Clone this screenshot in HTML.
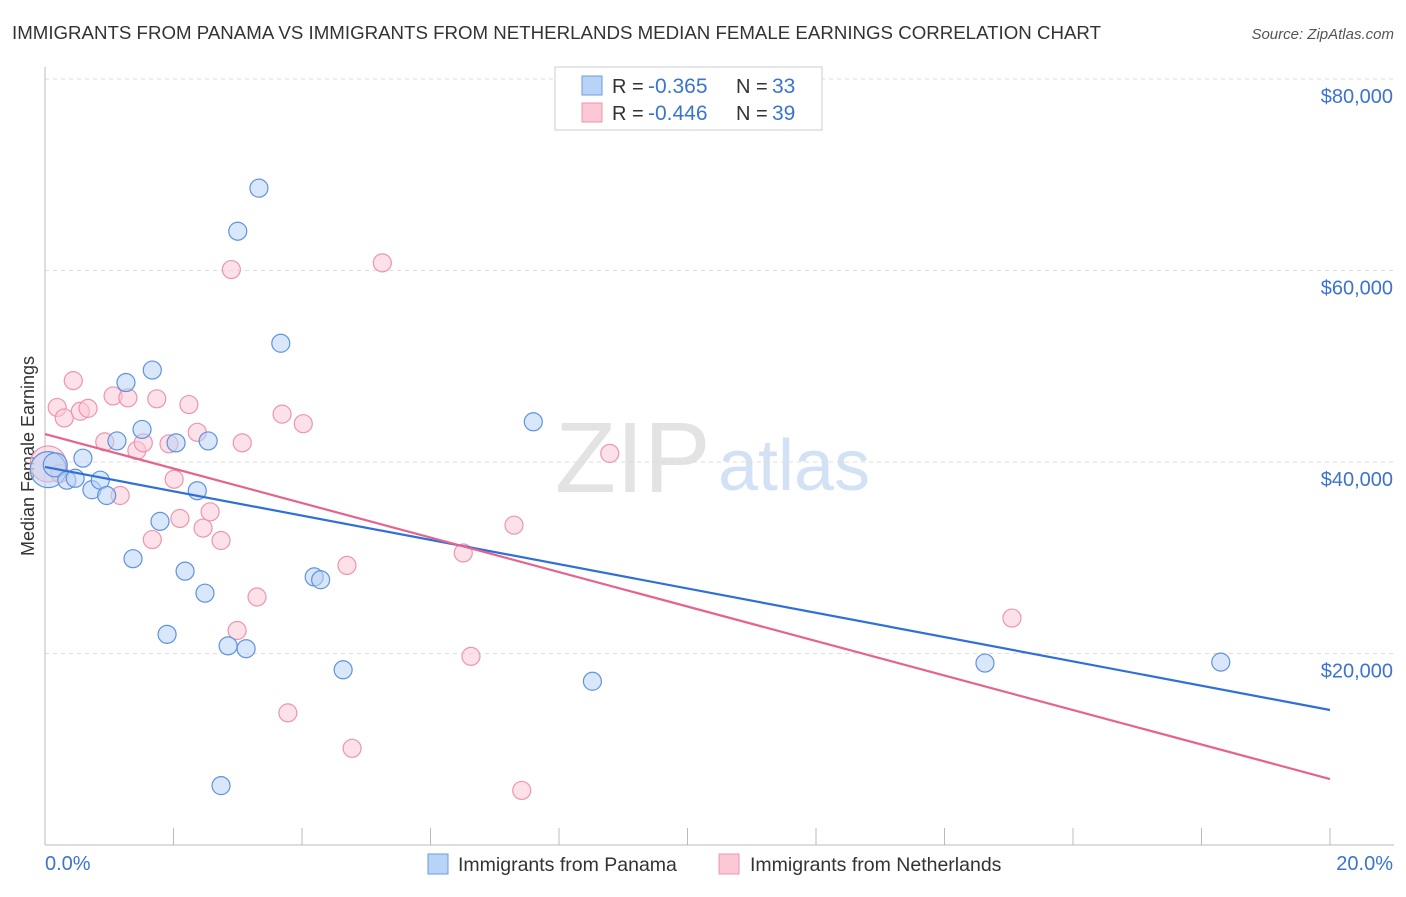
<!DOCTYPE html>
<html><head><meta charset="utf-8"><style>
body{margin:0;background:#fff;font-family:"Liberation Sans",sans-serif;}
svg text{font-family:"Liberation Sans",sans-serif;}
</style></head><body>
<svg id="chart" width="1406" height="892" xmlns="http://www.w3.org/2000/svg">
<text x="12" y="39" font-size="18.5" fill="#333" textLength="1089" lengthAdjust="spacingAndGlyphs">IMMIGRANTS FROM PANAMA VS IMMIGRANTS FROM NETHERLANDS MEDIAN FEMALE EARNINGS CORRELATION CHART</text>
<text x="1394" y="39" font-size="15" fill="#555" text-anchor="end" font-style="italic">Source: ZipAtlas.com</text>
<text x="555" y="492" font-size="100" fill="#ddd" font-family="Liberation Serif" opacity="0.8">ZIP</text>
<text x="718" y="490" font-size="72" fill="#c9daf3" opacity="0.8">atlas</text>
<text transform="translate(34,456) rotate(-90)" font-size="18" fill="#333" text-anchor="middle">Median Female Earnings</text>
<g id="grid"></g><g id="pts"></g><g id="lines"></g>
<g>
<rect x="555" y="67" width="267" height="63" fill="#fff" stroke="#ccc"/>
<rect x="582" y="76" width="20" height="19" fill="#b9d3f6" stroke="#6a9be0"/>
<rect x="582" y="103" width="20" height="19" fill="#fcc8d6" stroke="#ec95ae"/>
<text x="612" y="93" font-size="20" fill="#333">R =</text>
<text x="648" y="93" font-size="21" fill="#3b73d1">-0.365</text>
<text x="736" y="93" font-size="20" fill="#333">N =</text>
<text x="772" y="93" font-size="21" fill="#3b73d1">33</text>
<text x="612" y="120" font-size="20" fill="#333">R =</text>
<text x="648" y="120" font-size="21" fill="#3b73d1">-0.446</text>
<text x="736" y="120" font-size="20" fill="#333">N =</text>
<text x="772" y="120" font-size="21" fill="#3b73d1">39</text>
</g>
<g>
<rect x="428" y="854" width="20" height="20" fill="#b9d3f6" stroke="#6a9be0"/>
<text x="458" y="871" font-size="19.5" fill="#333">Immigrants from Panama</text>
<rect x="719" y="854" width="20" height="20" fill="#fcc8d6" stroke="#ec95ae"/>
<text x="750" y="871" font-size="19.5" fill="#333">Immigrants from Netherlands</text>
</g>
</svg>
<script>
const yTicks=[20000,40000,60000,80000];
const yTickLabels=["$20,000","$40,000","$60,000","$80,000"];
const xEndLabels=["0.0%","20.0%"];
const panamaX=[0.05,0.16,0.34,0.47,0.59,0.73,0.86,0.96,1.12,1.26,1.37,1.51,1.67,1.79,2.04,2.18,2.37,2.49,2.54,1.90,2.85,3.13,2.74,3.00,3.33,3.67,4.19,4.29,4.64,7.60,8.52,14.63,18.30];
const panamaY=[39200,39700,38100,38300,40400,37100,38100,36500,42200,48300,29900,43400,49600,33800,42000,28600,37000,26300,42200,22000,20800,20500,6200,64100,68600,52400,28000,27700,18300,44200,17100,19000,19100];
const panamaR=[18,12,9,9,9,9,9,9,9,9,9,9,9,9,9,9,9,9,9,9,9,9,9,9,9,9,9,9,9,9,9,9,9];
const nethX=[0.05,0.19,0.30,0.44,0.55,0.67,0.93,1.06,1.17,1.29,1.43,1.53,1.67,1.74,1.93,2.01,2.10,2.24,2.37,2.46,2.57,2.74,2.90,3.07,3.30,2.99,3.69,3.78,4.02,4.70,4.78,5.25,6.51,6.63,7.30,7.42,8.79,15.05,0.23];
const nethY=[39800,45700,44600,48500,45300,45600,42100,46900,36500,46700,41200,42000,31900,46600,41900,38200,34100,46000,43100,33100,34800,31800,60100,42000,25900,22400,45000,13800,44000,29200,10100,60800,30500,19700,33400,5700,40900,23700,38800];
const nethR=[18,9,9,9,9,9,9,9,9,9,9,9,9,9,9,9,9,9,9,9,9,9,9,9,9,9,9,9,9,9,9,9,9,9,9,9,9,9,9];
const panamaTrend=[39480,14100];
const nethTrend=[42920,6890];
const NS='http://www.w3.org/2000/svg';
const X0=45,X1=1330,YB=845,YPER=191.5/20000;
const xS=v=>X0+(v/20)*(X1-X0);
const yS=v=>YB-v*YPER;
function mk(tag,attrs,parent){const e=document.createElementNS(NS,tag);for(const k in attrs)e.setAttribute(k,attrs[k]);parent.appendChild(e);return e;}
const grid=document.getElementById('grid');
yTicks.forEach((t,i)=>{
 const l=mk('line',{x1:X0,x2:1394,y1:yS(t),y2:yS(t),stroke:'#ddd','stroke-dasharray':'4,4'},grid);
 
 
 const tx=mk('text',{x:1393,y:yS(t)+24,'font-size':20,fill:'#3b73d1','text-anchor':'end'},grid);
 tx.textContent=yTickLabels[i];
 
 
});
const ax=mk('line',{x1:X0,x2:X0,y1:67,y2:YB,stroke:'#bbb'},grid);


const bx=mk('line',{x1:X0,x2:1394,y1:YB,y2:YB,stroke:'#bbb'},grid);


for(let i=1;i<=10;i++){
 const t=mk('line',{x1:xS(i*2),x2:xS(i*2),y1:828,y2:YB,stroke:'#bbb'},grid);
 
 
}
[[0,'start',45],[20,'end',1393]].forEach((d,i)=>{
 const t=mk('text',{x:d[2],y:870,'font-size':20,fill:'#3b73d1','text-anchor':d[1]},grid);
 t.textContent=xEndLabels[i];
 
 
});
const pts=document.getElementById('pts');
function draw(xs,ys,rs,fill,stroke,name){
 xs.forEach((x,i)=>{
  const c=mk('circle',{cx:xS(x),cy:yS(ys[i]),r:rs[i],fill:fill,'fill-opacity':0.55,stroke:stroke,'stroke-width':1.2},pts);
  
  
 });
}
draw(nethX,nethY,nethR,'#fcc8d6','#ec95ae','netherlands-point');
draw(panamaX,panamaY,panamaR,'#b9d3f6','#5f92de','panama-point');
const lines=document.getElementById('lines');
const l1=mk('line',{x1:xS(0),y1:yS(panamaTrend[0]),x2:xS(20),y2:yS(panamaTrend[1]),stroke:'#2f6fd8','stroke-width':2.2},lines);


const l2=mk('line',{x1:xS(0),y1:yS(nethTrend[0]),x2:xS(20),y2:yS(nethTrend[1]),stroke:'#e4648f','stroke-width':2.2},lines);


</script>
</body></html>
